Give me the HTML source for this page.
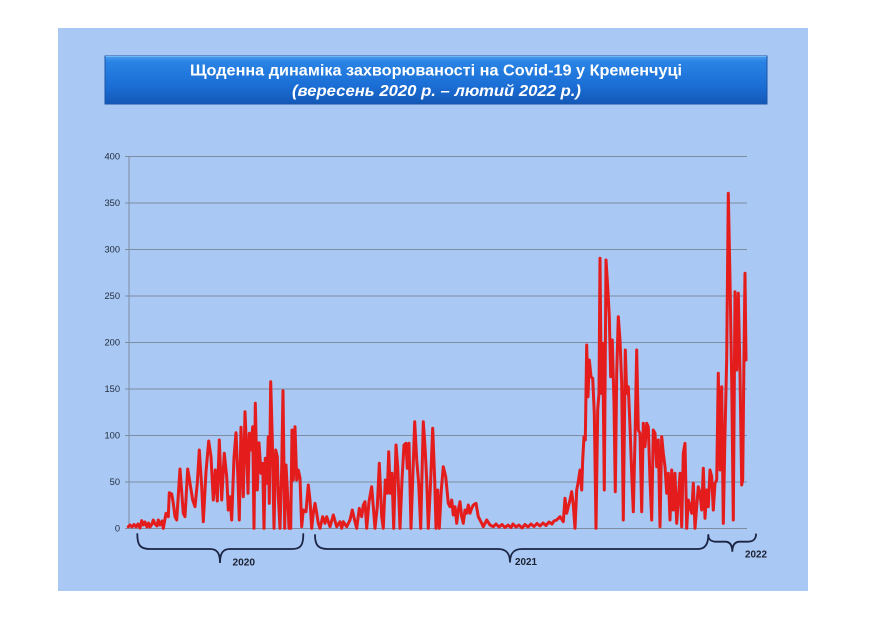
<!DOCTYPE html>
<html><head><meta charset="utf-8"><style>
html,body{margin:0;padding:0;background:#fff;}
svg{display:block;}
</style></head><body>
<svg width="872" height="620" viewBox="0 0 872 620" xmlns="http://www.w3.org/2000/svg">
<defs>
<linearGradient id="tg" x1="0" y1="0" x2="0" y2="1">
<stop offset="0" stop-color="#4a9cf0"/>
<stop offset="0.12" stop-color="#2a84e4"/>
<stop offset="0.6" stop-color="#1b6fd6"/>
<stop offset="1" stop-color="#1458b8"/>
</linearGradient>
</defs>
<rect x="0" y="0" width="872" height="620" fill="#ffffff"/>
<rect x="58" y="28" width="750" height="563" fill="#a9c8f4"/>
<!-- title box -->
<rect x="105" y="56" width="662" height="48" fill="url(#tg)" stroke="#1a55a8" stroke-width="1"/>
<line x1="105.5" y1="56.5" x2="766.5" y2="56.5" stroke="#6fb4f6" stroke-width="1"/>
<text x="190" y="75.5" fill="#ffffff" font-family="Liberation Sans, sans-serif" font-weight="bold" font-size="15.5" textLength="492" lengthAdjust="spacingAndGlyphs">Щоденна динаміка захворюваності на Covid-19 у Кременчуці</text>
<text x="292" y="96" fill="#ffffff" font-family="Liberation Sans, sans-serif" font-weight="bold" font-style="italic" font-size="15.5" textLength="289" lengthAdjust="spacingAndGlyphs">(вересень 2020 р. – лютий 2022 р.)</text>
<!-- gridlines -->
<g stroke="#7d8ca2" stroke-width="1">
<line x1="125" y1="156.5" x2="747" y2="156.5"/>
<line x1="125" y1="203" x2="747" y2="203"/>
<line x1="125" y1="249.5" x2="747" y2="249.5"/>
<line x1="125" y1="296" x2="747" y2="296"/>
<line x1="125" y1="342.5" x2="747" y2="342.5"/>
<line x1="125" y1="389" x2="747" y2="389"/>
<line x1="125" y1="435.5" x2="747" y2="435.5"/>
<line x1="125" y1="482" x2="747" y2="482"/>
<line x1="125" y1="528.5" x2="747" y2="528.5"/>
<line x1="129" y1="156" x2="129" y2="529"/>
</g>
<g fill="#1f2a3a" font-family="Liberation Sans, sans-serif" font-size="9.3" text-anchor="end">
<text x="120" y="159.5">400</text>
<text x="120" y="206">350</text>
<text x="120" y="252.5">300</text>
<text x="120" y="299">250</text>
<text x="120" y="345.5">200</text>
<text x="120" y="392">150</text>
<text x="120" y="438.5">100</text>
<text x="120" y="485">50</text>
<text x="120" y="531.5">0</text>
</g>
<!-- data line -->
<polyline fill="none" stroke="#e41c1c" stroke-width="3" stroke-linejoin="round" stroke-linecap="round" points="
128.3,526.7 130,525 132,527 134,524.5 136,527 138,524 140,528 141.7,520.7 143.5,525 145,522 147,527 148.5,523 150,527 152,524 153.3,520 155,524 157,526 158.3,520 160,525 162,521 163.3,528.3
166,513.3 168.3,516.7 169.3,492.7 171.7,494 173.3,503.3 175,516.7 176.7,520 180,469 183.3,513.3 185,516.7 187.7,469 190,483.3 192.7,500 195,506.7 197.3,483.3 199.3,450 201.7,486.7 203.3,521.7 206,471.7 208.7,441 211,456.7 213.3,500 215.3,470 217.3,501 219.3,440 221.7,500 224.3,453.3 226.7,476.7 228.3,510 230,496.7 231.7,520 234,457.3 236,432.7 238,480 239.3,520 241,427.3 243.3,496.7 245,411.7 246.7,453.3 248,493.3 249.3,433.3 250.7,450 252.7,426.7 254,528.3 255.3,403.3 257.3,490 259,442.7 261,473.3 262.7,463.3 264,528.3 265.3,458.3 266.7,483.3 268.3,436.7 269.3,503.3 270.7,381.7 272.3,440 274,528.3 275.7,450 277.3,456.7 278.3,496.7 280,528.3 281.7,468.3 283,390.7 284.7,528.3 286,465 287.7,496.7 289,528.3 290.7,528.3 292,430 293.3,480 295,426.7 296.7,480 298.3,470 300,478
301.7,526.7 303.3,510 306,511.7 308.3,485 310,500 311.7,528.3 313.3,513.3 315,503.3 316.7,513.3 318.3,523.3 320,528.3 322.7,516.7 325,523.3 326.7,516.7 330,526.7 333.3,515 336.7,526.7 340,521.7 341.7,528.3 343.3,521.7 346.7,526.7 350,520 352.3,510 355,521.7 356.7,528.3 359.3,508.3 361.7,516.7 363.3,505 365,501.7 366.7,528.3 369,501.7 371.7,486.7 373.3,506.7 375,528.3 377.3,506.7 379.3,463.3 381.7,516.7 383.3,528.3 385.3,480 387.3,493.3 388.7,451.7 390.3,493.3 392,473.3 393.7,528.3 396,445 397.7,466.7 400,528.3 402,480 404,445 406,443.3 407.3,468.3 409,443.3 411,528.3 412.7,480 414.7,421.7 416.7,460 418.7,483.3 420.7,528.3 423.3,421.7 425,446.7 426.7,480 428.3,528.3 430.7,480 432.7,428.3 434.7,480 436,528.3 437.7,490 439.3,528.3 441.3,490 443.3,466.7 445.7,476.7 448.3,503.3 450,506.7 451.7,500 453.3,515 455,506.7 456.7,523.3 458.3,510 460,501.7 461.7,516.7 463.3,523.3 465,510 466.7,513.3 468.3,505 470,513.3 471.7,508.3 473.3,505 476,503.3 478.3,516.7 481.7,523.3 483.3,526.7 486.7,520 490,525 493.3,526.7
496,524 499,527 502,524.5 505,527.5 508,525 511,527.5 513,524 516,527 519,525 522,528 525,524.5 528,527 531,524 534,526.5 537,523.5 540,526 543,523 546,525.5 549,522 552,524 554,521 556.7,520
560,516.7 563.3,521.7 565,498.3 566.7,513.3 568.3,506.7 570,500 571.7,491.7 573.3,505 575,528.3 576.7,490 578.3,481.7 580,470 581.7,490 582.7,460 584,436.7 585.3,440 586.7,345 588,396.7 589.3,360 591,376.7 592.7,378.3 594.3,413.3 596,528.3 597.7,410 599,393.3 600,258.3 601.3,393.3 602.7,343.3 604.3,490 606,260 607.7,286.7 609.3,316.7 610.7,376.7 612.3,340 614,403.3 615.3,491.7 616.7,373.3 618.3,316.7 620,340 621.7,383.3 623.3,520 625.3,350 626.7,393.3 628.3,386.7 630,426.7 631.7,473.3 633.3,511.7 635,440 636.7,350 638.3,430 640,433.3 641.7,511.7 643.3,423.3 645,446.7 646.7,423.3 648.3,426.7 650,480 651.7,520 653.3,430 655,433.3 656.7,466.7 658.3,440 660,526.7 661.7,436.7 663.3,453.3 665,466.7 666.7,493.3 668.3,473.3 670,520 671.7,470 673.3,510 675,473.3 676.7,523.3 678.3,500 680,473.3 681.7,526.7 683.3,453.3 685,443.3 686.7,528.3 688.3,500 690,506.7 691.7,513.3 693.3,483.3 695,528.3 696.7,506.7 698.3,486.7 700,493.3 701.7,510 703.3,468.3 705,518.3 706.7,490 708.3,506.7 710,470 711.7,476.7 713.3,510 715,483.3 716.7,480 718.3,373.3 720,470 721.7,386.7 723.3,523.3 725,433.3 726.7,358.3 728.3,193.3 730,280 731.7,380 733.3,520 735,291.7 736.7,370 738.3,293.3 740,373.3 741.7,485 742.7,480 744,353.3 745,273.3 746,360"/>
<!-- braces -->
<g fill="none" stroke="#1b2442" stroke-width="1.8" stroke-linecap="round">
<path d="M137.3,534 C137.3,545 140,549 150,549 L210,549 C217,549 220,553 220,563 C220,553 223,549 230,549 L292,549 C301,549 303.3,545 303.3,534"/>
<path d="M315,535 C315,545 318,549 328,549 L498,549 C506,549 510,553 510,562.5 C510,553 514,549 522,549 L698,549 C705,549 708.3,544 708.3,535"/>
<path d="M708.3,535 C708.3,539 711,541.7 716,541.7 L725,541.7 C730,541.7 732.3,545 732.3,551.7 C732.3,545 735,541.7 740,541.7 L748,541.7 C753,541.7 756,539 756,534.3"/>
</g>
<g fill="#1b2030" font-family="Liberation Sans, sans-serif" font-weight="bold" font-size="10">
<text x="232.5" y="565.5" textLength="22.5" lengthAdjust="spacingAndGlyphs">2020</text>
<text x="515" y="565" textLength="22" lengthAdjust="spacingAndGlyphs">2021</text>
<text x="745" y="557.5" textLength="22" lengthAdjust="spacingAndGlyphs">2022</text>
</g>
</svg>
</body></html>
